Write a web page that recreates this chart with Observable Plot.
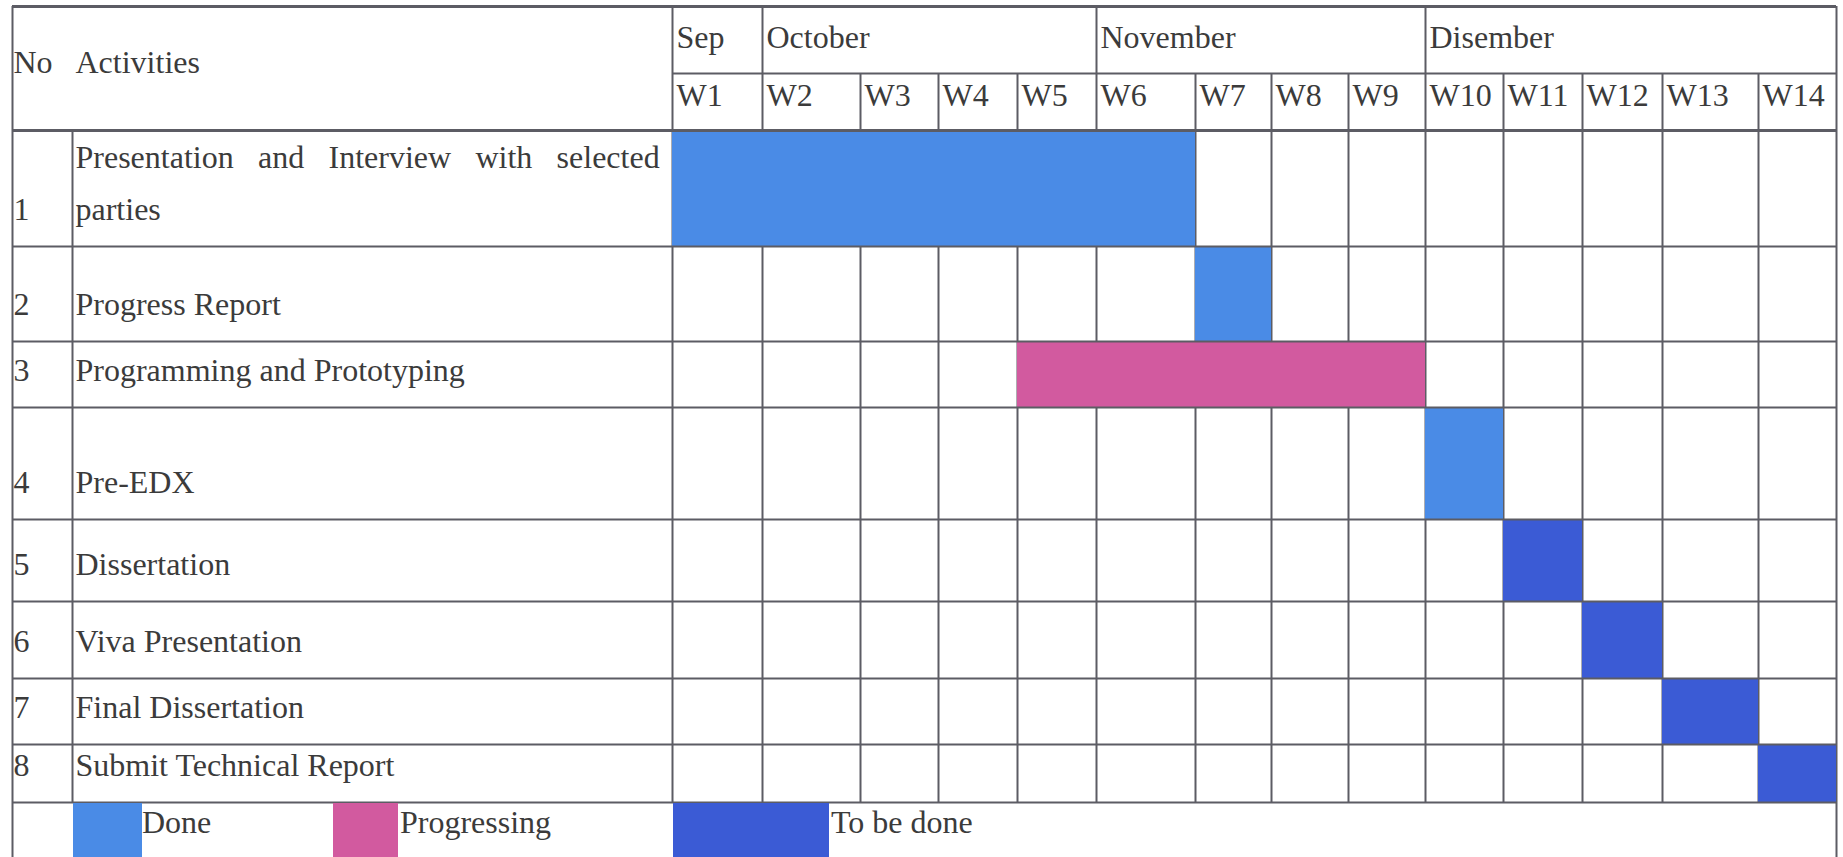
<!DOCTYPE html>
<html>
<head>
<meta charset="utf-8">
<script src="https://cdn.jsdelivr.net/npm/d3@7"></script>
<script src="https://cdn.jsdelivr.net/npm/@observablehq/plot@0.6"></script>
<style>
  html, body { margin: 0; padding: 0; background: #fff; }
  #chart { position: relative; width: 1843px; height: 857px; overflow: hidden; }
  #chart svg { display: block; }
  #legend { position: absolute; left: 0; top: 803px; width: 1843px; height: 54px;
            font-family: "Liberation Serif", "Times New Roman", serif; font-size: 32px; color: #3b3b3b; }
  #legend .sw { position: absolute; top: 0; height: 54px; }
  #legend .lab { position: absolute; top: 3px; line-height: 32px; white-space: nowrap; }
</style>
</head>
<body>
<div id="chart"></div>
<script>
// ---- schedule data ----
const months = ["Sep", "October", "November", "Disember"];
const monthFirstWeek = [1, 2, 6, 10];
const weeks = ["W1", "W2", "W3", "W4", "W5", "W6", "W7", "W8", "W9", "W10", "W11", "W12", "W13", "W14"];
const activityNo = ["1", "2", "3", "4", "5", "6", "7", "8"];
const activities = [
  "Presentation and Interview with selected parties",
  "Progress Report",
  "Programming and Prototyping",
  "Pre-EDX",
  "Dissertation",
  "Viva Presentation",
  "Final Dissertation",
  "Submit Technical Report"
];
const startWeek = [1, 7, 5, 10, 11, 12, 13, 14];
const endWeek = [6, 7, 9, 10, 11, 12, 13, 14];
const status = ["Done", "Done", "Progressing", "Done", "To be done", "To be done", "To be done", "To be done"];
const statusLabels = ["Done", "Progressing", "To be done"];
const statusColors = ["#4a8be6", "#d25a9f", "#3b5bd5"];

// ---- table layout (pixel edges of the columns and rows) ----
// columns: left border, No | Activities, then the edges of the 14 week columns
const colEdgesPx = [12, 72, 672, 762, 860, 938, 1017, 1096, 1195, 1271, 1348, 1425, 1503, 1582, 1662, 1758, 1836];
// rows: top, month | week, header bottom, 8 activity rows, legend row
const rowEdgesPx = [6, 73, 130, 246, 341, 407, 519, 601, 678, 744, 802, 860];
const W = 1843, H = 857;
const activityColWidth = 594;   // room for wrapping
const justifyWidth = 584;       // text line length of the justified lines
const fontPx = 32;
const ink = "#3b3b3b";
const lineColor = "#5c5c64";

// x units: -2 = left border, -1 = No|Activities, k = end of week k
// y units: row edges, 0 = top of the table
const colUnits = d3.scaleLinear(d3.range(-2, weeks.length + 1), colEdgesPx);
const rowUnits = d3.scaleLinear(d3.range(0, rowEdgesPx.length), rowEdgesPx);

const tasks = activities.map((name, i) => ({
  no: activityNo[i], name, row: i, start: startWeek[i], end: endWeek[i], status: status[i]
}));

// wrap activity names to the Activities column, Word style (justified)
const ctx = document.createElement("canvas").getContext("2d");
ctx.font = `${fontPx}px "Liberation Serif"`;
const justified = new Map();
function wrap(text) {
  const words = text.split(" ");
  const lines = [];
  let cur = [];
  for (const w of words) {
    const trial = cur.concat(w).join(" ");
    if (cur.length && ctx.measureText(trial).width > activityColWidth) { lines.push(cur); cur = [w]; }
    else cur.push(w);
  }
  lines.push(cur);
  lines.slice(0, -1).forEach(ws => {
    const s = ws.join(" ");
    const extra = (justifyWidth - ctx.measureText(s).width) / Math.max(1, ws.length - 1);
    justified.set(s, Math.max(0, extra));
  });
  return lines.map(ws => ws.join(" ")).join("\n");
}
tasks.forEach(t => t.label = wrap(t.name));

// grid segments derived from the table structure
const nRows = activities.length;
const lastRow = nRows + 2;             // line under the final activity
const hLines = [{y: 0, x1: -2, x2: weeks.length, w: 3}, {y: 1, x1: 0, x2: weeks.length, w: 2}];
for (let r = 2; r <= lastRow; r++) hLines.push({y: r, x1: -2, x2: weeks.length, w: r === 2 ? 3 : 2});
const vLines = [
  {x: -2, y1: 0, y2: rowEdgesPx.length - 1},
  {x: -1, y1: 2, y2: lastRow},
  {x: 0, y1: 0, y2: lastRow}
];
for (let k = 1; k < weeks.length; k++) {
  vLines.push({x: k, y1: monthFirstWeek.includes(k + 1) ? 0 : 1, y2: lastRow});
}
vLines.push({x: weeks.length, y1: 0, y2: rowEdgesPx.length - 1});

const textBase = {fill: ink, fontSize: fontPx, textAnchor: "start", lineAnchor: "bottom"};

const chart = Plot.plot({
  width: W,
  height: H,
  margin: 0,
  x: {type: "linear", transform: colUnits, domain: [0, W], range: [0, W], axis: null},
  y: {type: "linear", transform: rowUnits, domain: [0, H], range: [0, H], axis: null},
  color: {domain: statusLabels, range: statusColors},
  style: {fontFamily: '"Liberation Serif", "Times New Roman", serif', background: "#fff"},
  marks: [
    Plot.ruleX(vLines, {x: "x", y1: "y1", y2: "y2", stroke: lineColor, strokeWidth: 2}),
    Plot.rect(tasks, {x1: d => d.start - 1, x2: "end", y1: d => d.row + 2, y2: d => d.row + 3, fill: "status"}),
    Plot.ruleY(hLines, {y: "y", x1: "x1", x2: "x2", stroke: lineColor, strokeWidth: "w"}),
    // header
    Plot.text(["No"], {...textBase, x: () => -2, y: () => 1, dx: 1, dy: -1}),
    Plot.text(["Activities"], {...textBase, x: () => -1, y: () => 1, dx: 3, dy: -1}),
    Plot.text(months, {...textBase, x: (d, i) => monthFirstWeek[i] - 1, y: () => 1, dx: 4, dy: -26}),
    Plot.text(weeks, {...textBase, x: (d, i) => i, y: () => 2, dx: 4, dy: -25}),
    // activity rows
    Plot.text(tasks, {...textBase, text: "no", x: () => -2, y: d => d.row + 3, dx: 1, dy: -27}),
    Plot.text(tasks, {...textBase, text: "label", x: () => -1, y: d => d.row + 3, dx: 3, dy: -27, lineHeight: 1.6})
  ]
});

// justify wrapped lines across the Activities column
d3.select(chart).selectAll("text, tspan").each(function () {
  if (this.childElementCount === 0 && justified.has(this.textContent)) {
    this.setAttribute("word-spacing", justified.get(this.textContent).toFixed(1));
  }
});

const root = document.getElementById("chart");
root.appendChild(chart);

// legend row at the foot of the table
const legendSlots = [
  {swatch: [73, 142], label: 142},
  {swatch: [333, 398], label: 400},
  {swatch: [673, 829], label: 831}
];
const legend = document.createElement("div");
legend.id = "legend";
statusLabels.forEach((s, i) => {
  const slot = legendSlots[i];
  const sw = document.createElement("div");
  sw.className = "sw";
  sw.style.left = slot.swatch[0] + "px";
  sw.style.width = (slot.swatch[1] - slot.swatch[0]) + "px";
  sw.style.background = statusColors[i];
  const lab = document.createElement("div");
  lab.className = "lab";
  lab.style.left = slot.label + "px";
  lab.textContent = s;
  legend.appendChild(sw);
  legend.appendChild(lab);
});
root.appendChild(legend);
</script>
</body>
</html>
